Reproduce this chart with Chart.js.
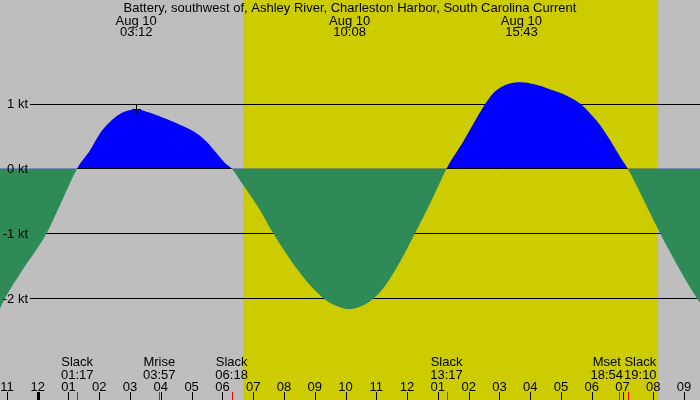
<!DOCTYPE html>
<html>
<head>
<meta charset="utf-8">
<script src="https://cdn.jsdelivr.net/npm/chart.js@4.4.1/dist/chart.umd.min.js"></script>
<style>
  html, body { margin: 0; padding: 0; background: #bebebe; }
  canvas { display: block; }
</style>
</head>
<body>
<canvas id="tide" width="700" height="400"></canvas>
<script>
// Title
const title = 'Battery, southwest of, Ashley River, Charleston Harbor, South Carolina Current';

// Current (knots) - time in hours after midnight, Aug 10
const hours = [-1.225, -1.06, -0.57, 0.29, 0.72, 1.283, 1.70, 2.02, 2.35, 2.67, 3.0, 3.2, 3.65, 4.19, 4.73, 5.17, 5.49,
  5.82, 6.09, 6.3, 6.68, 7.22, 7.65, 8.30, 8.85, 9.39, 9.82, 10.133, 10.58, 10.90, 11.12, 11.55, 12.26, 12.85, 13.283,
  13.83, 14.48, 14.80, 15.13, 15.45, 15.717, 16.10, 16.64, 17.19, 17.62, 17.94, 18.27, 18.59, 18.92, 19.167, 19.70,
  20.22, 21.41, 21.52];
const knots = [-2.16, -2.00, -1.62, -1.00, -0.57, 0, 0.28, 0.54, 0.72, 0.84, 0.90, 0.91, 0.86, 0.76, 0.65, 0.54, 0.41,
  0.23, 0.08, 0, -0.26, -0.64, -1.00, -1.47, -1.80, -2.04, -2.14, -2.17, -2.11, -2.01, -1.91, -1.62, -1.00, -0.44, 0,
  0.42, 0.95, 1.16, 1.27, 1.32, 1.33, 1.30, 1.22, 1.12, 1.00, 0.85, 0.67, 0.44, 0.18, 0, -0.50,
  -1.00, -2.00, -2.07];

// Max / min flood and ebb (top labels)
const extremeTimes = [3.2, 10.133, 15.717];
const extremeDates = ['Aug 10', 'Aug 10', 'Aug 10'];
const extremeClock = ['03:12', '10:08', '15:43'];

// "+" marker
const markTime = [3.2];
const markValue = [0.91];

// Events along the bottom
const eventTimes = [1.283, 3.95, 6.3, 13.283, 18.9, 19.167];
const eventNames = ['Slack', 'Mrise', 'Slack', 'Slack', 'Mset', 'Slack'];
const eventClock = ['01:17', '03:57', '06:18', '13:17', '18:54', '19:10'];

// Daylight
const sunrise = 6.68;
const sunset = 20.14;

// Axis ticks
const hourTicks = [-1, 0, 1, 2, 3, 4, 5, 6, 7, 8, 9, 10, 11, 12, 13, 14, 15, 16, 17, 18, 19, 20, 21];
const hourLabels = ['11', '12', '01', '02', '03', '04', '05', '06', '07', '08', '09', '10', '11', '12',
  '01', '02', '03', '04', '05', '06', '07', '08', '09'];
const knotTicks = [1, 0, -1, -2];
const knotLabels = ['1 kt', '0 kt', '-1 kt', '-2 kt'];

const FONT = '13px "Liberation Sans", Arial, sans-serif';
const crisp = (v) => Math.round(v) + 0.5;

const tidePlugin = {
  id: 'tide',
  beforeDraw(chart) {
    const { ctx, scales: { x } } = chart;
    ctx.save();
    ctx.fillStyle = '#bebebe';
    ctx.fillRect(0, 0, chart.width, chart.height);
    const x0 = Math.round(x.getPixelForValue(sunrise));
    const x1 = Math.round(x.getPixelForValue(sunset));
    ctx.fillStyle = '#cccc00';
    ctx.fillRect(x0, 0, x1 - x0, chart.height);
    ctx.restore();
  },
  beforeDatasetsDraw(chart) {
    const { ctx, scales: { y } } = chart;
    ctx.save();
    ctx.strokeStyle = '#000';
    ctx.lineWidth = 1;
    knotTicks.forEach(v => {
      if (v === 0) return; // zero line drawn later, under the flood only
      const py = crisp(y.getPixelForValue(v));
      ctx.beginPath();
      ctx.moveTo(30, py);
      ctx.lineTo(chart.width, py);
      ctx.stroke();
    });
    ctx.restore();
  },
  afterDatasetsDraw(chart) {
    const { ctx, scales: { x, y } } = chart;
    ctx.save();

    // zero line shows under the flood (blue) part only
    const zy = crisp(y.getPixelForValue(0));
    ctx.strokeStyle = '#000';
    ctx.lineWidth = 1;
    for (let i = 0; i < hours.length - 1; i++) {
      if (knots[i] > 0 || knots[i + 1] > 0) {
        ctx.beginPath();
        ctx.moveTo(x.getPixelForValue(hours[i]), zy);
        ctx.lineTo(x.getPixelForValue(hours[i + 1]), zy);
        ctx.stroke();
      }
    }

    // "+" at the first flood max
    markTime.forEach((t, i) => {
      const px = crisp(x.getPixelForValue(t));
      const py = crisp(y.getPixelForValue(markValue[i]));
      ctx.beginPath();
      ctx.moveTo(px - 4.5, py);
      ctx.lineTo(px + 4.5, py);
      ctx.moveTo(px, py - 4.5);
      ctx.lineTo(px, py + 4.5);
      ctx.stroke();
    });

    ctx.font = FONT;
    ctx.fillStyle = '#000';

    // y labels
    ctx.textAlign = 'right';
    ctx.textBaseline = 'alphabetic';
    knotTicks.forEach((v, i) => {
      ctx.fillText(knotLabels[i], 28, y.getPixelForValue(v) + 4.7);
    });

    // title
    ctx.textAlign = 'center';
    ctx.fillText(title, chart.width / 2, 12);

    // extremes
    extremeTimes.forEach((t, i) => {
      const px = x.getPixelForValue(t);
      ctx.fillText(extremeDates[i], px, 24.6);
      ctx.fillText(extremeClock[i], px, 36);
    });

    // event labels, pushed apart when they collide
    const centers = eventTimes.map(t => x.getPixelForValue(t));
    const widths = eventNames.map((n, i) => Math.max(ctx.measureText(n).width, ctx.measureText(eventClock[i]).width));
    for (let i = 0; i < centers.length - 1; i++) {
      const need = (widths[i] + widths[i + 1]) / 2 + 1;
      const gap = centers[i + 1] - centers[i];
      if (gap < need) {
        const shift = (need - gap) / 2;
        centers[i] -= shift;
        centers[i + 1] += shift;
      }
    }
    centers.forEach((cx, i) => {
      ctx.fillText(eventNames[i], cx, 366);
      ctx.fillText(eventClock[i], cx, 378.6);
    });

    // hour labels and ticks
    hourTicks.forEach((h, i) => {
      const px = x.getPixelForValue(h);
      ctx.fillText(hourLabels[i], px, 391);
      if (h === 0) {
        ctx.fillRect(Math.round(px) - 1, 392, 3, 8);
      } else {
        ctx.fillRect(Math.round(px), 392, 1, 8);
      }
    });

    // event ticks
    ctx.fillStyle = '#ff0000';
    eventTimes.forEach(t => {
      ctx.fillRect(Math.round(x.getPixelForValue(t)), 392, 1, 8);
    });

    ctx.restore();
  }
};

new Chart(document.getElementById('tide'), {
  type: 'line',
  data: {
    datasets: [
      {
        data: hours.map((h, i) => ({ x: h, y: knots[i] })),
        borderColor: 'rgba(0,0,0,0)',
        borderWidth: 1,
        pointRadius: 0,
        cubicInterpolationMode: 'monotone',
        fill: { target: 'origin', above: '#0000ff', below: '#2e8b57' }
      }
    ]
  },
  options: {
    responsive: false,
    animation: false,
    devicePixelRatio: 1,
    events: [],
    layout: { padding: 0, autoPadding: false },
    scales: {
      x: { type: 'linear', min: -1.225, max: 21.517, display: false },
      y: { min: -3.5713, max: 2.5968, display: false }
    },
    plugins: {
      legend: { display: false },
      tooltip: { enabled: false }
    }
  },
  plugins: [tidePlugin]
});
</script>
</body>
</html>
